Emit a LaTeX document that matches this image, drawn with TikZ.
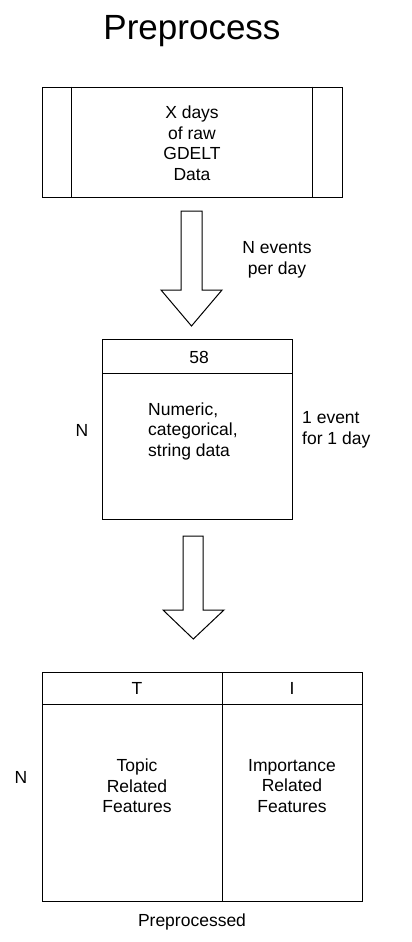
\documentclass[tikz,border=0pt]{standalone}
\usepackage{fontspec}
\setmainfont{Liberation Sans}
\begin{document}
\begin{tikzpicture}[x=1pt,y=-1pt,
  box/.style={draw=black,line width=1pt,fill=white,inner sep=0pt},
  lbl/.style={font=\fontsize{17.5}{20.5}\selectfont,inner sep=0pt,align=center},
  lbll/.style={font=\fontsize{17.5}{20.5}\selectfont,inner sep=0pt,align=left},
  blockarrow/.style={draw=black,line width=1pt,fill=white,line join=miter}]
\useasboundingbox (0,0) rectangle (412,942);
% title
\node[inner sep=0pt,font=\fontsize{35}{40}\selectfont] (title) at (192,31) {Preprocess};
% box 1
\node[box,minimum width=300pt,minimum height=110pt] (raw) at (192,142) {};
\draw[line width=1pt] ([xshift=30pt]raw.north west) -- ([xshift=30pt]raw.south west);
\draw[line width=1pt] ([xshift=-30pt]raw.north east) -- ([xshift=-30pt]raw.south east);
\node[lbl] (rawtxt) at (192,143) {X days\\of raw\\GDELT\\Data};
% arrow 1
\draw[blockarrow] (181,211) -- (202,211) -- (202,290) -- (222,290) -- (191.5,326) -- (161,290) -- (181,290) -- cycle;
\node[lbl] (nev) at (277,260) {N events\\per day};
% box 2
\node[box,minimum width=190pt,minimum height=180pt] (tab) at (197,429) {};
\draw[line width=1pt] (102,373) -- (292,373);
\node[lbl] (c58) at (199,357) {58};
\node[lbll,anchor=west] (num) at (148,431) {Numeric,\\categorical,\\string data};
\node[lbl] (n1) at (82,430) {N};
\node[lbll,anchor=west] (ev1) at (302,430) {1 event\\for 1 day};
% arrow 2
\draw[blockarrow] (183,536) -- (203,536) -- (203,610) -- (224,610) -- (193.3,639) -- (163,610) -- (183,610) -- cycle;
% box 3
\node[box,minimum width=320pt,minimum height=229pt] (pre) at (202,786.5) {};
\draw[line width=1pt] (42,704) -- (362,704);
\draw[line width=1pt] (222,672) -- (222,901);
\node[lbl] (ct) at (137,688) {T};
\node[lbl] (ci) at (292,688) {I};
\node[lbl] (topic) at (137,786) {Topic\\Related\\Features};
\node[lbl] (imp) at (292,786) {Importance\\Related\\Features};
\node[lbl] (n2) at (21,777) {N};
\node[lbl] (ppd) at (192,922) {Preprocessed};
\end{tikzpicture}
\end{document}
